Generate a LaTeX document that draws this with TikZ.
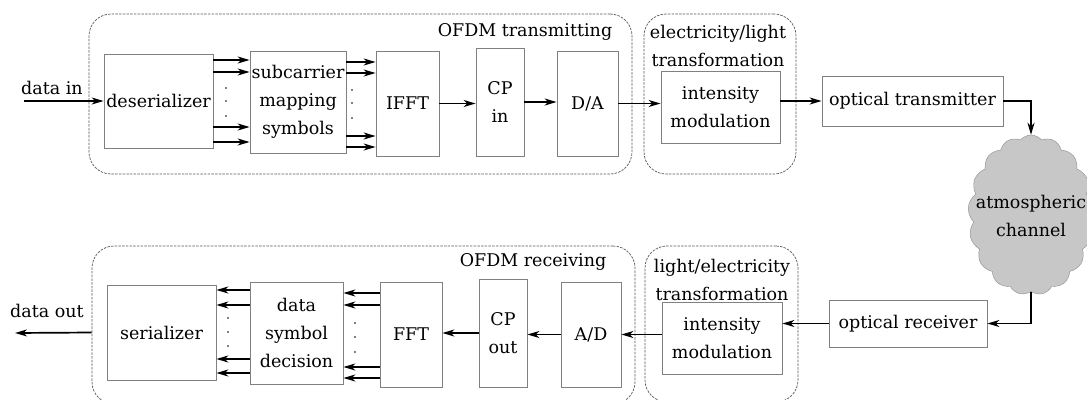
\documentclass[tikz,border=0pt]{standalone}
\usepackage{fontspec}
\setmainfont{DejaVu Serif}
\usetikzlibrary{arrows.meta,shapes.symbols,calc}
\begin{document}
\begin{tikzpicture}[x=1pt,y=-1pt,
  every node/.style={font=\fontsize{17.5}{28}\selectfont},
  box/.style={draw=black!50, line width=0.8pt, fill=white, align=center, inner sep=0pt},
  grp/.style={draw=black!65, line width=0.7pt, dash pattern=on 2.5pt off 1.2pt, rounded corners=22pt, inner sep=0pt},
  arr/.style={line width=1.7pt, -{Stealth[length=12pt,width=7pt,inset=3.5pt]}},
  lbl/.style={align=center, inner sep=0pt},
  dot/.style={circle, fill=black, inner sep=0pt, minimum size=1.8pt}]
\useasboundingbox (0,0) rectangle (1087,399);
% groups
\node[grp, minimum width=543pt, minimum height=160pt] (gT1) at (360.5,94) {};
\node[grp, minimum width=152pt, minimum height=160pt] (gT2) at (720,94) {};
\node[grp, minimum width=543pt, minimum height=158pt] (gB1) at (363.5,325) {};
\node[grp, minimum width=153pt, minimum height=156pt] (gB2) at (721.5,324) {};
% group labels
\node[lbl] (tT1) at (525,32) {OFDM transmitting};
\node[lbl] (tT2) at (718,45.5) {electricity/light\\transformation};
\node[lbl] (tB1) at (533,262) {OFDM receiving};
\node[lbl] (tB2) at (722,279.5) {light/electricity\\transformation};
% top row boxes
\node[box, minimum width=109pt, minimum height=94pt] (des) at (158.5,101) {deserializer};
\node[box, minimum width=96pt, minimum height=102pt] (sub) at (298,102) {subcarrier\\mapping\\symbols};
\node[box, minimum width=63pt, minimum height=105pt] (ifft) at (407.5,103.5) {IFFT};
\node[box, minimum width=48pt, minimum height=108pt] (cpin) at (500,102) {CP\\in};
\node[box, minimum width=61pt, minimum height=105pt] (da) at (587.5,103.5) {D/A};
\node[box, minimum width=119pt, minimum height=72pt] (imT) at (720.5,107) {intensity\\modulation};
\node[box, minimum width=181pt, minimum height=50pt] (ot) at (912.5,101) {optical transmitter};
% cloud
\node[cloud, cloud puffs=17, cloud puff arc=100, aspect=0.79, minimum width=126pt, minimum height=160pt, draw=black!45, fill=black!22, inner sep=0pt] (cl) at (1031,215) {};
\node[lbl] (clt) at (1031,216) {atmospheric\\channel};
% bottom row boxes
\node[box, minimum width=158pt, minimum height=47pt] (or) at (908,323.5) {optical receiver};
\node[box, minimum width=120pt, minimum height=72pt] (imB) at (722,338) {intensity\\modulation};
\node[box, minimum width=60pt, minimum height=105pt] (ad) at (591,334.5) {A/D};
\node[box, minimum width=48pt, minimum height=108pt] (cpo) at (503,333) {CP\\out};
\node[box, minimum width=62pt, minimum height=105pt] (fft) at (411,334.5) {FFT};
\node[box, minimum width=93pt, minimum height=102pt] (dsd) at (296.5,333) {data\\symbol\\decision};
\node[box, minimum width=109pt, minimum height=95pt] (ser) at (161.5,332.5) {serializer};
% in/out labels
\node[lbl] (din t) at (52,88) {data in};
\node[lbl] (dout t) at (47,311) {data out};
\coordinate (din) at (24,101);
\coordinate (dout) at (15,333);
% top connectors
\draw[arr] (din) -- (des.west);
\foreach \s in {41,29,-26,-41}
  \draw[arr] ([yshift=\s pt]des.east) -- ([yshift=\s pt]des.east -| sub.west);
\foreach \s in {40,29,-34,-45}
  \draw[arr] ([yshift=\s pt]sub.east) -- ([yshift=\s pt]sub.east -| ifft.west);
\draw[arr] (ifft.east) -- (ifft.east -| cpin.west);
\draw[arr] (cpin.east) -- (cpin.east -| da.west);
\draw[arr] (da.east) -- (da.east -| imT.west);
\draw[arr] (imT.east |- ot.west) -- (ot.west);
\draw[arr] (ot.east) -| (cl.north);
\draw[arr] (cl.south) |- (or.east);
% bottom connectors
\draw[arr] (or.west) -- (or.west -| imB.east);
\draw[arr] (imB.west |- ad.east) -- (ad.east);
\draw[arr] (ad.west) -- (ad.west -| cpo.east);
\draw[arr] (cpo.west) -- (cpo.west -| fft.east);
\foreach \s in {41.5,29.5,-32.5,-43.5}
  \draw[arr] ([yshift=\s pt]fft.west) -- ([yshift=\s pt]fft.west -| dsd.east);
\foreach \s in {43,28,-26,-40}
  \draw[arr] ([yshift=\s pt]dsd.west) -- ([yshift=\s pt]dsd.west -| ser.east);
\draw[arr] (gB1.west |- ser.west) -- (dout);
% dots
\foreach \y in {88,101,116} \node[dot] at (226,\y) {};
\foreach \y in {90,103,118} \node[dot] at (352,\y) {};
\foreach \y in {318,332,346} \node[dot] at (228,\y) {};
\foreach \y in {323,337,352} \node[dot] at (355,\y) {};
\end{tikzpicture}
\end{document}
